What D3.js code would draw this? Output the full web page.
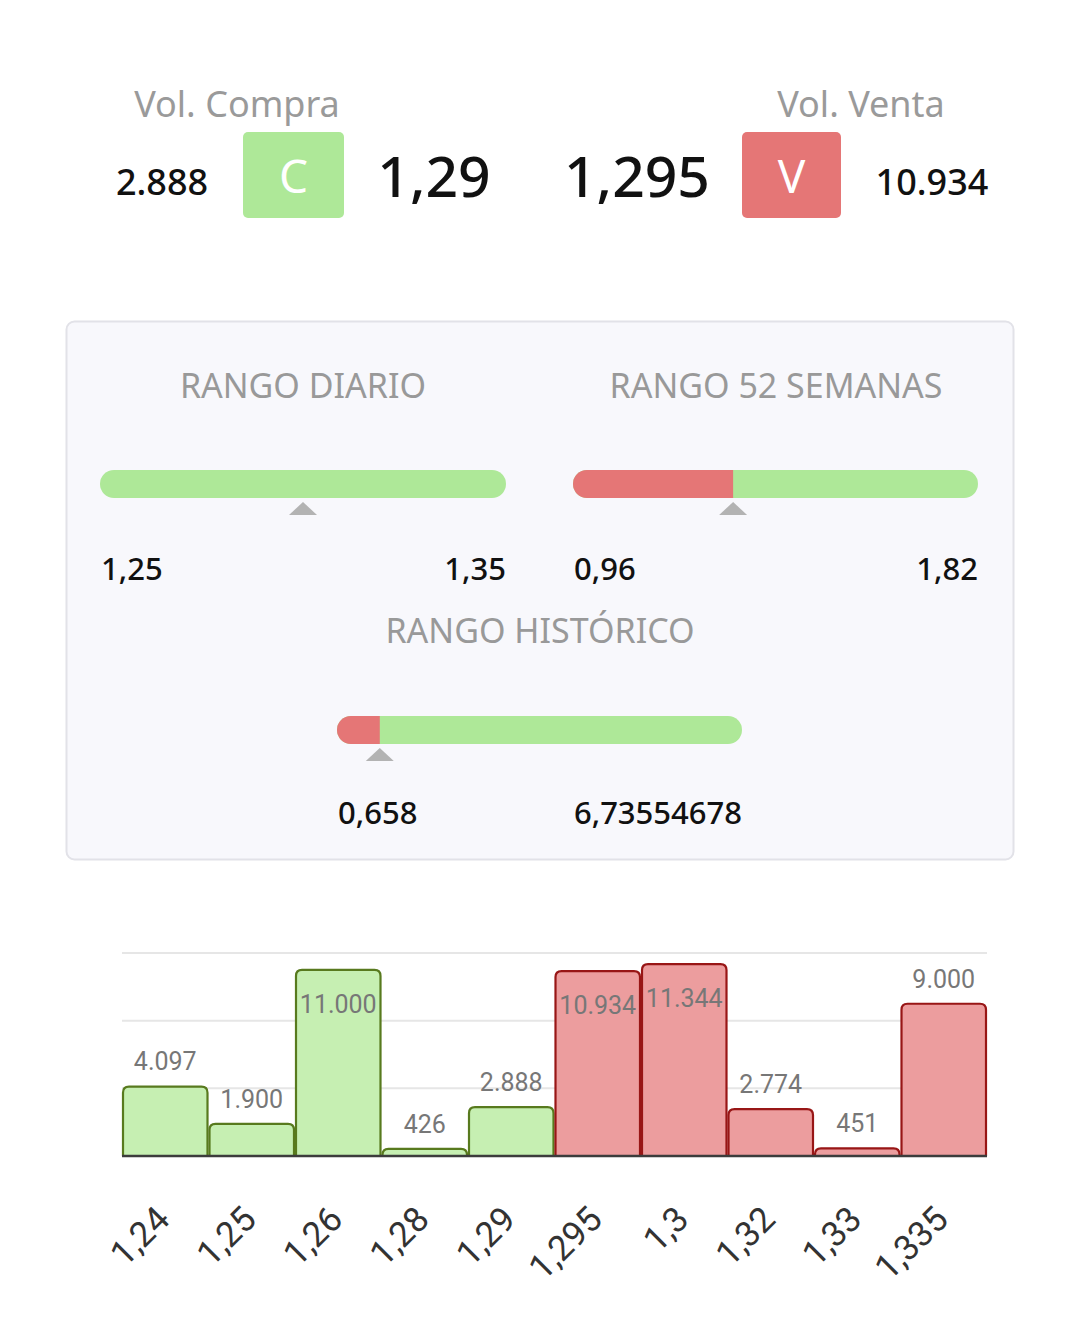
<!DOCTYPE html>
<html><head><meta charset="utf-8">
<script src="https://cdn.jsdelivr.net/npm/d3@7"></script>
<style>
html,body{margin:0;padding:0;background:#fff;}
svg{display:block;font-family:"Noto Sans","Open Sans",sans-serif;}
</style></head>
<body><svg id="c" width="1080" height="1330"></svg>
<script>
// ---- data ----
const volCompra = "2.888", precioCompra = "1,29";
const volVenta = "10.934", precioVenta = "1,295";
const lastPrice = 1.30;
const rangeNames = ["RANGO DIARIO", "RANGO 52 SEMANAS", "RANGO HISTÓRICO"];
const rangeMin = [1.25, 0.96, 0.658];
const rangeMax = [1.35, 1.82, 6.73554678];
const rangeMinLabel = ["1,25", "0,96", "0,658"];
const rangeMaxLabel = ["1,35", "1,82", "6,73554678"];
const rangeRedEnd = [1.25, 1.30, 1.30];
const priceLevels = ["1,24","1,25","1,26","1,28","1,29","1,295","1,3","1,32","1,33","1,335"];
const volumes = [4097, 1900, 11000, 426, 2888, 10934, 11344, 2774, 451, 9000];
const volumeLabels = ["4.097","1.900","11.000","426","2.888","10.934","11.344","2.774","451","9.000"];
const side = ["C","C","C","C","C","V","V","V","V","V"];
const yTicks = [0, 4000, 8000, 12000];

const svg = d3.select("#c");
const GREEN = "#aee898", RED = "#e57676";

// ---- header ----
const hdr = svg.append("g");
hdr.append("text").attr("x",237).attr("y",117).attr("text-anchor","middle").attr("font-size",36).attr("fill","#9a9a9a").text("Vol. Compra");
hdr.append("text").attr("x",861).attr("y",117).attr("text-anchor","middle").attr("font-size",36).attr("fill","#9a9a9a").text("Vol. Venta");
hdr.append("text").attr("x",162).attr("y",195).attr("text-anchor","middle").attr("font-size",36).attr("font-weight",500).attr("fill","#111").text(volCompra);
hdr.append("rect").attr("x",243).attr("y",132).attr("width",101).attr("height",86).attr("rx",5).attr("fill",GREEN);
hdr.append("text").attr("x",293.5).attr("y",193).attr("text-anchor","middle").attr("font-size",46).attr("fill","#fff").text("C");
hdr.append("text").attr("x",434).attr("y",197).attr("text-anchor","middle").attr("font-size",57).attr("font-weight",500).attr("fill","#111").text(precioCompra);
hdr.append("text").attr("x",637).attr("y",197).attr("text-anchor","middle").attr("font-size",57).attr("font-weight",500).attr("fill","#111").text(precioVenta);
hdr.append("rect").attr("x",742).attr("y",132).attr("width",99).attr("height",86).attr("rx",5).attr("fill",RED);
hdr.append("text").attr("x",791.5).attr("y",193).attr("text-anchor","middle").attr("font-size",46).attr("fill","#fff").text("V");
hdr.append("text").attr("x",932).attr("y",195).attr("text-anchor","middle").attr("font-size",36).attr("font-weight",500).attr("fill","#111").text(volVenta);

// ---- range panel ----
svg.append("rect").attr("x",66.5).attr("y",321.5).attr("width",947).attr("height",538).attr("rx",8)
  .attr("fill","#f8f8fc").attr("stroke","#e2e2e8").attr("stroke-width",2);

const layouts = [
  {cx:303, x0:100, x1:506, titleY:398, barY:470, labY:580},
  {cx:776, x0:573, x1:978, titleY:398, barY:470, labY:580},
  {cx:540, x0:337, x1:742, titleY:643, barY:716, labY:824}
];
const BH = 28;
layouts.forEach((L,i)=>{
  const g = svg.append("g");
  const sc = d3.scaleLinear().domain([rangeMin[i], rangeMax[i]]).range([L.x0, L.x1]);
  g.append("text").attr("x",L.cx).attr("y",L.titleY).attr("text-anchor","middle").attr("font-size",34).attr("fill","#999").text(rangeNames[i]);
  const clipId = "clip"+i;
  g.append("clipPath").attr("id",clipId).append("rect").attr("x",L.x0).attr("y",L.barY).attr("width",L.x1-L.x0).attr("height",BH).attr("rx",BH/2);
  const cg = g.append("g").attr("clip-path",`url(#${clipId})`);
  cg.append("rect").attr("x",L.x0).attr("y",L.barY).attr("width",L.x1-L.x0).attr("height",BH).attr("fill",GREEN);
  cg.append("rect").attr("x",L.x0).attr("y",L.barY).attr("width",sc(rangeRedEnd[i])-L.x0).attr("height",BH).attr("fill",RED);
  const tx = sc(lastPrice), ty = L.barY+BH+4;
  g.append("path").attr("d",`M${tx},${ty} L${tx+14},${ty+13} L${tx-14},${ty+13} Z`).attr("fill","#b3b3b3");
  g.append("text").attr("x",L.x0+1).attr("y",L.labY).attr("font-size",31).attr("font-weight",500).attr("fill","#111").text(rangeMinLabel[i]);
  g.append("text").attr("x",L.x1).attr("y",L.labY).attr("text-anchor","end").attr("font-size",31).attr("font-weight",500).attr("fill","#111").text(rangeMaxLabel[i]);
});

// ---- volume bar chart ----
const cL = 122, cR = 987, cT = 953, cB = 1156;
const x = d3.scaleBand().domain(priceLevels).range([cL, cR]).padding(0);
const y = d3.scaleLinear().domain([0, 12000]).range([cB, cT]);
const ch = svg.append("g").attr("font-family","Roboto, sans-serif");

ch.append("g").selectAll("line").data(yTicks.slice(1)).join("line")
  .attr("x1",cL).attr("x2",cR).attr("y1",d=>y(d)).attr("y2",d=>y(d))
  .attr("stroke","#e6e6e6").attr("stroke-width",2);

function topRounded(x0,y0,w,h,r){
  r = Math.min(r,h,w/2);
  return `M${x0},${y0+h} L${x0},${y0+r} Q${x0},${y0} ${x0+r},${y0} L${x0+w-r},${y0} Q${x0+w},${y0} ${x0+w},${y0+r} L${x0+w},${y0+h}`;
}
const fills = {C:"#c6efb2", V:"#ec9d9e"}, strokes = {C:"#587a1e", V:"#981616"};
ch.append("g").selectAll("path").data(priceLevels).join("path")
  .attr("d",(d,i)=>topRounded(x(d)+1, y(volumes[i]), x.bandwidth()-2, cB-y(volumes[i]), 6))
  .attr("fill",(d,i)=>fills[side[i]]).attr("stroke",(d,i)=>strokes[side[i]]).attr("stroke-width",2.2);

ch.append("line").attr("x1",cL).attr("x2",cR).attr("y1",cB).attr("y2",cB).attr("stroke","#3c3c3c").attr("stroke-width",2.5);

ch.append("g").selectAll("text").data(priceLevels).join("text")
  .attr("x",d=>x(d)+x.bandwidth()/2)
  .attr("y",(d,i)=>{ const t=y(volumes[i]); return (t-25 < cT+8) ? t+34 : t-25; })
  .attr("dy","0.35em").attr("text-anchor","middle").attr("font-size",25).attr("fill","#777")
  .text((d,i)=>volumeLabels[i]);

const ax = ch.append("g").attr("transform",`translate(0,${cB})`)
  .call(d3.axisBottom(x).tickSize(0).tickPadding(0));
ax.select(".domain").remove();
ax.selectAll("text").attr("font-size",35).attr("fill","#333").attr("font-family","Roboto, sans-serif")
  .attr("text-anchor","end").attr("dy","0.7em").attr("transform","translate(-11,48) rotate(-45)");
</script></body></html>
